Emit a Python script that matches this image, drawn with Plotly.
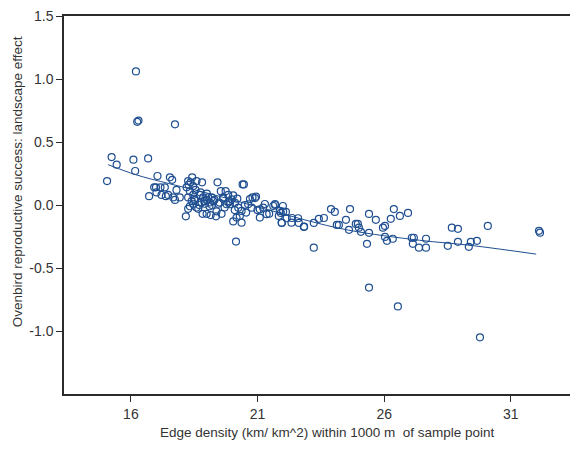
import plotly.graph_objects as go

# ---- data ----
edge_density = [
    16.20, 16.25, 16.30, 17.74, 15.24, 15.44, 15.06, 16.10, 16.17, 16.68,
    17.05, 17.54, 17.63, 16.92, 16.99, 17.17, 17.34, 16.72, 17.01, 17.21,
    17.38, 17.47, 17.67, 17.80, 17.74, 17.93, 18.17, 18.26, 18.36, 18.42,
    18.28, 18.46, 18.59, 18.81, 18.20, 18.33, 18.46, 18.26, 18.40, 18.53,
    18.33, 18.46, 18.26, 18.59, 18.72, 18.85, 18.99, 19.05, 19.19, 18.79,
    18.92, 19.12, 19.25, 18.66, 18.83, 18.99, 19.15, 19.38, 19.36, 19.58,
    19.42, 19.55, 19.74, 19.64, 19.84, 19.98, 20.04, 19.91, 19.78, 20.11,
    20.24, 20.37, 20.30, 20.17, 20.04, 20.37, 20.41, 20.46, 20.80, 20.94,
    20.15, 20.63, 20.77, 21.09, 21.22, 21.36, 21.09, 21.46, 21.62, 21.69,
    21.88, 21.95, 22.01, 22.15, 22.34, 22.60, 22.84, 20.70, 20.90, 21.29,
    21.69, 22.00, 22.12, 21.92, 21.84, 21.96, 22.36, 22.63, 22.83, 23.22,
    23.42, 23.62, 23.22, 23.90, 24.05, 24.13, 24.21, 24.49, 24.61, 24.65,
    24.88, 24.96, 25.00, 25.08, 25.40, 25.40, 25.32, 25.67, 25.95, 26.03,
    26.03, 26.11, 26.34, 26.26, 26.38, 26.62, 26.94, 27.09, 27.17, 27.13,
    27.37, 27.65, 27.65, 28.51, 28.67, 28.91, 28.91, 29.34, 29.42, 29.66,
    30.09, 32.11, 32.15, 25.40, 26.54, 29.78,
    18.50, 18.70, 18.90, 19.10, 19.30, 19.50, 19.70, 19.90, 20.10, 20.50,
    18.55, 18.75, 19.00, 19.20, 19.45, 19.65, 19.85, 20.20, 20.55, 21.00,
]
landscape_effect = [
    1.06, 0.66, 0.67, 0.64, 0.38, 0.32, 0.19, 0.36, 0.27, 0.37,
    0.23, 0.22, 0.20, 0.14, 0.14, 0.14, 0.14, 0.07, 0.10, 0.08,
    0.07, 0.08, 0.06, 0.12, 0.04, 0.06, -0.09, 0.19, 0.18, 0.22,
    0.16, 0.15, 0.19, 0.18, 0.14, 0.11, 0.08, 0.06, 0.03, 0.04,
    -0.01, 0.01, -0.03, -0.02, 0.08, 0.06, 0.04, 0.06, 0.06, 0.02,
    0.01, 0.02, 0.03, -0.03, -0.07, -0.07, -0.08, -0.05, -0.09, -0.07,
    0.18, 0.11, 0.11, 0.06, 0.08, 0.045, 0.077, 0.006, 0.006, 0.018,
    -0.021, -0.047, -0.087, -0.10, -0.13, -0.14, 0.163, 0.163, 0.06, 0.066,
    -0.29, 0.006, -0.021, -0.034, -0.021, -0.073, -0.10, -0.069, -0.008, 0.0,
    -0.047, -0.14, -0.053, -0.105, -0.14, -0.105, -0.171, 0.047, 0.055, 0.008,
    0.008, -0.008, -0.055, -0.063, -0.087, -0.142, -0.103, -0.142, -0.174, -0.142,
    -0.11, -0.103, -0.339, -0.032, -0.055, -0.158, -0.158, -0.118, -0.197, -0.032,
    -0.15, -0.15, -0.18, -0.213, -0.071, -0.221, -0.308, -0.118, -0.18, -0.166,
    -0.253, -0.284, -0.268, -0.11, -0.032, -0.087, -0.063, -0.26, -0.26, -0.308,
    -0.339, -0.268, -0.339, -0.324, -0.18, -0.189, -0.292, -0.332, -0.292, -0.284,
    -0.166, -0.205, -0.22, -0.655, -0.805, -1.05,
    0.05, 0.00, 0.03, -0.01, 0.04, 0.02, -0.02, 0.03, -0.04, 0.00,
    0.12, 0.10, 0.09, 0.00, 0.01, 0.05, 0.02, 0.05, -0.06, -0.04,
]

# smoothed trend line
fit_x = [15.1, 16.2, 17.5, 19.1, 21.1, 22.9, 24.6, 27.4, 29.4, 32.0]
fit_y = [0.32, 0.24, 0.17, 0.09, -0.02, -0.12, -0.20, -0.28, -0.32, -0.39]

x_ticks = [16, 21, 26, 31]
y_ticks = [-1.0, -0.5, 0.0, 0.5, 1.0, 1.5]
y_tick_text = ["-1.0", "-0.5", "0.0", "0.5", "1.0", "1.5"]

BLUE = "#1f4f91"
AXIS = "#2b2b2b"
TEXT = "#333333"
FONT = "Liberation Sans, Arial, sans-serif"

fig = go.Figure()

fig.add_trace(go.Scatter(
    x=fit_x, y=fit_y, mode="lines",
    line=dict(color=BLUE, width=1, shape="spline"),
    hoverinfo="skip",
))

fig.add_trace(go.Scatter(
    x=edge_density, y=landscape_effect, mode="markers",
    marker=dict(symbol="circle-open", size=7, color=BLUE, line=dict(width=1.2)),
))

# page body has an 8px margin, so the figure is a bit smaller than the window
fig.update_layout(
    width=570, height=441,
    margin=dict(l=56, r=0, t=6, b=55),
    paper_bgcolor="white", plot_bgcolor="white",
    showlegend=False,
    font=dict(family=FONT, color=TEXT, size=12),
    xaxis=dict(
        range=[13.36, 33.65], tickvals=x_ticks, ticks="outside", ticklen=6,
        tickcolor=AXIS, showline=True, linecolor=AXIS, linewidth=1.5,
        mirror=True, showgrid=False, zeroline=False,
        tickfont=dict(size=14, color=TEXT),
    ),
    yaxis=dict(
        range=[-1.5, 1.5], tickvals=y_ticks, ticktext=y_tick_text,
        ticks="outside", ticklen=6, tickcolor=AXIS,
        showline=True, linecolor=AXIS, linewidth=1.5,
        showgrid=False, zeroline=False, ticklabeloverflow="allow",
        tickfont=dict(size=14, color=TEXT),
    ),
    annotations=[
        dict(text="Edge density (km/ km^2) within 1000 m  of sample point",
             xref="paper", yref="paper", x=0.512, y=-0.103,
             xanchor="center", yanchor="middle", showarrow=False,
             font=dict(size=13.5, color=TEXT)),
        dict(text="Ovenbird reproductive success: landscape effect",
             xref="paper", yref="paper", x=-0.0914, y=0.56,
             xanchor="center", yanchor="middle", textangle=-90,
             showarrow=False, font=dict(size=13.5, color=TEXT)),
    ],
)

fig.write_html("out.html")
